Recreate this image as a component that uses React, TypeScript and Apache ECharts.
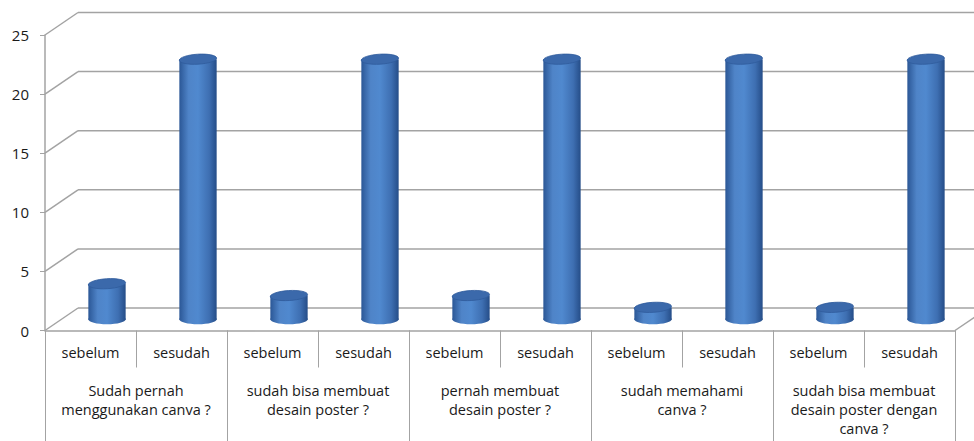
import React, { useEffect, useRef } from "react";
import * as echarts from "echarts";

const subCategories = [
  "sebelum", "sesudah", "sebelum", "sesudah", "sebelum",
  "sesudah", "sebelum", "sesudah", "sebelum", "sesudah",
];
const groups = [
  "Sudah pernah\nmenggunakan canva ?",
  "sudah bisa membuat\ndesain poster ?",
  "pernah membuat\ndesain poster ?",
  "sudah memahami\ncanva ?",
  "sudah bisa membuat\ndesain poster dengan\ncanva ?",
];
const sebelum = [3, 2, 2, 1, 1];
const sesudah = [22, 22, 22, 22, 22];
const yTicks = [0, 5, 10, 15, 20, 25];

const DX = 33;
const DY = -22.5;
const GRID_COLOR = "#a3a3a3";
const FONT = "'Open Sans', Lato, sans-serif";

export default function App() {
  const ref = useRef<HTMLDivElement>(null);
  useEffect(() => {
    if (!ref.current) return;
    const chart = echarts.init(ref.current, null, { renderer: "svg" });

    const barData: number[][] = [];
    sebelum.forEach((v, i) => {
      barData.push([i * 2, v]);
      barData.push([i * 2 + 1, sesudah[i]]);
    });

    const bodyFill = new echarts.graphic.LinearGradient(0, 0, 1, 0, [
      { offset: 0, color: "#2b5796" },
      { offset: 0.25, color: "#4f84c8" },
      { offset: 0.5, color: "#5089cf" },
      { offset: 0.8, color: "#3e6fb2" },
      { offset: 1, color: "#254d88" },
    ]);

    chart.setOption({
      animation: false,
      grid: { left: 45, top: 35, right: 19, bottom: 110.5 },
      xAxis: [
        {
          type: "category",
          data: subCategories,
          position: "bottom",
          axisLine: { show: true, lineStyle: { color: GRID_COLOR, width: 1.5 } },
          axisTick: { show: true, length: 37, lineStyle: { color: GRID_COLOR, width: 1 } },
          axisLabel: {
            margin: 14,
            fontSize: 14.5,
            fontFamily: FONT,
            color: "#1a1a1a",
            interval: 0,
          },
        },
        {
          type: "category",
          data: groups,
          position: "bottom",
          offset: 0,
          axisLine: { show: false },
          axisTick: { show: true, length: 112, lineStyle: { color: GRID_COLOR, width: 1 } },
          axisLabel: {
            margin: 50,
            fontSize: 14.5,
            lineHeight: 19,
            fontFamily: FONT,
            color: "#1a1a1a",
            interval: 0,
            verticalAlign: "top",
          },
        },
      ],
      yAxis: {
        type: "value",
        min: 0,
        max: 25,
        interval: 5,
        axisLine: { show: true, lineStyle: { color: GRID_COLOR, width: 1.5 } },
        axisTick: { show: true, length: 5, lineStyle: { color: GRID_COLOR } },
        splitLine: { show: false },
        axisLabel: { margin: 16, fontSize: 15, fontFamily: FONT, color: "#1a1a1a" },
      },
      series: [
        {
          type: "custom",
          xAxisIndex: 0,
          clip: false,
          z: 1,
          data: yTicks.map((v) => [0, v]),
          encode: { x: 0, y: 1 },
          renderItem: (params: any, api: any) => {
            const v = api.value(1);
            const cs = params.coordSys;
            const y = api.coord([0, v])[1];
            const x0 = cs.x;
            const x1 = cs.x + cs.width;
            const style = { stroke: GRID_COLOR, lineWidth: 1.5, fill: "none" };
            const children: any[] = [
              { type: "line", shape: { x1: x0, y1: y, x2: x0 + DX, y2: y + DY }, style },
              { type: "line", shape: { x1: x0 + DX, y1: y + DY, x2: x1 + DX, y2: y + DY }, style },
            ];
            if (v === 0) {
              children.push({ type: "line", shape: { x1: x1, y1: y, x2: x1 + DX, y2: y + DY }, style });
            }
            return { type: "group", children };
          },
        },
        {
          type: "custom",
          xAxisIndex: 0,
          clip: false,
          z: 3,
          data: barData,
          encode: { x: 0, y: 1 },
          renderItem: (params: any, api: any) => {
            const idx = api.value(0);
            const v = api.value(1);
            const base = api.coord([idx, 0]);
            const top = api.coord([idx, v]);
            const w = api.size([1, 0])[0] * 0.41;
            const cx = base[0] + DX / 2;
            const yb = base[1] + DY / 2;
            const yt = top[1] + DY / 2;
            const rx = w / 2;
            const ry = 5;
            return {
              type: "group",
              children: [
                { type: "ellipse", shape: { cx, cy: yb, rx, ry }, style: { fill: bodyFill } },
                { type: "rect", shape: { x: cx - rx, y: yt, width: w, height: yb - yt }, style: { fill: bodyFill } },
                {
                  type: "ellipse",
                  shape: { cx, cy: yt, rx, ry },
                  rotation: 0.06,
                  originX: cx,
                  originY: yt,
                  style: { fill: "#3b69ab", stroke: "#2f5c9c", lineWidth: 0.8 },
                },
              ],
            };
          },
        },
      ],
    });
    return () => chart.dispose();
  }, []);
  return (
    <div
      ref={ref}
      style={{ position: "fixed", left: 0, top: 0, width: 974, height: 441, background: "#fff" }}
    />
  );
}
